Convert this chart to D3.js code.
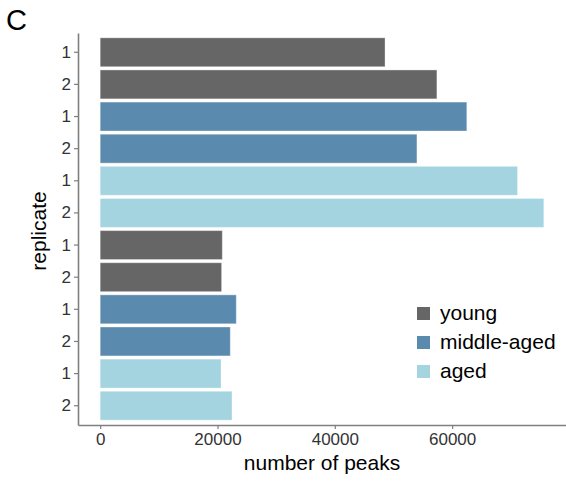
<!DOCTYPE html>
<html>
<head>
<meta charset="utf-8">
<script src="https://cdn.jsdelivr.net/npm/d3@7"></script>
<style>
  body { margin: 0; background: #fff; }
  svg { font-family: "Liberation Sans", Arial, sans-serif; }
</style>
</head>
<body>
<div id="chart"></div>
<script>
// bars from top to bottom
var rowIds = ["r1","r2","r3","r4","r5","r6","r7","r8","r9","r10","r11","r12"];
var replicate = ["1","2","1","2","1","2","1","2","1","2","1","2"];
var group = ["young","young","middle-aged","middle-aged","aged","aged",
             "young","young","middle-aged","middle-aged","aged","aged"];
var peaks = [48560, 57400, 62500, 54000, 71150, 75630,
             20820, 20700, 23200, 22180, 20600, 22470];
var groups = ["young", "middle-aged", "aged"];
var groupColors = ["#666666", "#5a8aad", "#a4d4e0"];
var xTicks = [0, 20000, 40000, 60000];

var svgWidth = 566, svgHeight = 482;
var plotLeft = 78, plotRight = 566, plotTop = 33, plotBottom = 425;

var svg = d3.select("#chart").append("svg")
  .attr("width", svgWidth)
  .attr("height", svgHeight);

var maxVal = d3.max(peaks);
var pad = maxVal * 0.05;
var x = d3.scaleLinear()
  .domain([-pad, maxVal + pad])
  .range([plotLeft, plotRight]);

var y = d3.scaleBand()
  .domain(rowIds)
  .range([plotTop, plotBottom])
  .paddingInner(0.1)
  .paddingOuter(0.15);

var color = d3.scaleOrdinal().domain(groups).range(groupColors);

// bars
svg.selectAll("rect.bar")
  .data(rowIds)
  .enter().append("rect")
  .attr("class", "bar")
  .attr("x", x(0))
  .attr("y", function(d) { return y(d); })
  .attr("width", function(d, i) { return x(peaks[i]) - x(0); })
  .attr("height", y.bandwidth())
  .attr("fill", function(d, i) { return color(group[i]); })
  .attr("stroke", "#ffffff")
  .attr("stroke-opacity", 0.35)
  .attr("stroke-width", 1);

// x axis
var xAxis = svg.append("g")
  .attr("transform", "translate(0," + plotBottom + ")")
  .call(d3.axisBottom(x).tickValues(xTicks).tickFormat(d3.format("d"))
    .tickSize(4).tickSizeOuter(0).tickPadding(4));
xAxis.select(".domain").attr("stroke", "#7f7f7f").attr("stroke-width", 1.6);
xAxis.selectAll(".tick line").attr("stroke", "#7f7f7f").attr("stroke-width", 1.2);
xAxis.selectAll(".tick text")
  .attr("font-size", 17)
  .attr("fill", "#333333");

// y axis
var yAxis = svg.append("g")
  .attr("transform", "translate(" + plotLeft + ",0)")
  .call(d3.axisLeft(y).tickFormat(function(d, i) { return replicate[i]; })
    .tickSize(4).tickSizeOuter(0).tickPadding(3));
yAxis.select(".domain").attr("stroke", "#7f7f7f").attr("stroke-width", 1.6);
yAxis.selectAll(".tick line").attr("stroke", "#7f7f7f").attr("stroke-width", 1.2);
yAxis.selectAll(".tick text")
  .attr("font-size", 17)
  .attr("fill", "#333333");

// axis titles
svg.append("text")
  .attr("x", 322)
  .attr("y", 470)
  .attr("text-anchor", "middle")
  .attr("font-size", 21)
  .attr("fill", "#000")
  .text("number of peaks");

svg.append("text")
  .attr("transform", "translate(46,231) rotate(-90)")
  .attr("text-anchor", "middle")
  .attr("font-size", 21)
  .attr("fill", "#000")
  .text("replicate");

// panel letter
svg.append("text")
  .attr("x", 6)
  .attr("y", 30)
  .attr("font-size", 29)
  .attr("fill", "#000")
  .text("C");

// legend
var legend = svg.append("g")
  .attr("transform", "translate(417,307)");
var items = legend.selectAll("g")
  .data(groups)
  .enter().append("g")
  .attr("transform", function(d, i) { return "translate(0," + (i * 29) + ")"; });
items.append("rect")
  .attr("width", 13)
  .attr("height", 13)
  .attr("fill", function(d) { return color(d); });
items.append("text")
  .attr("x", 23)
  .attr("y", 13)
  .attr("font-size", 21)
  .attr("fill", "#000")
  .text(function(d) { return d; });
</script>
</body>
</html>
